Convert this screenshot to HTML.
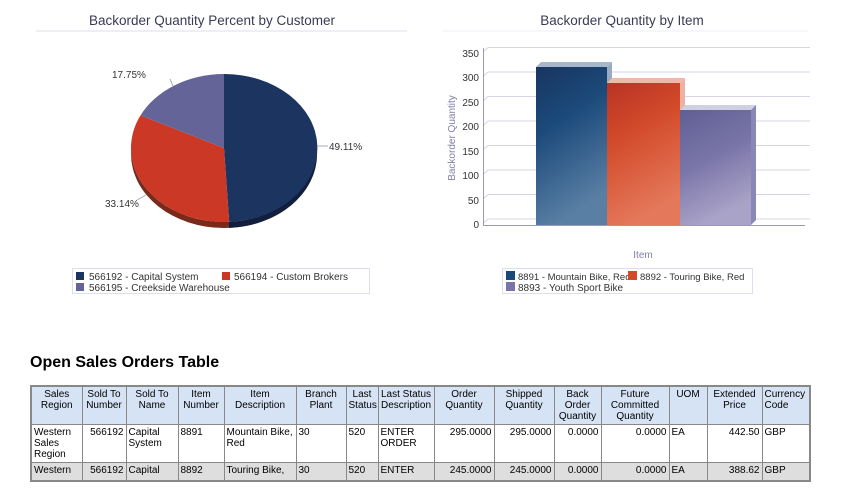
<!DOCTYPE html>
<html><head><style>
body{margin:0;width:845px;height:495px;background:#fff;font-family:"Liberation Sans",sans-serif;position:relative;overflow:hidden}
.abs{position:absolute}
table{border-collapse:collapse;position:absolute;left:30px;top:385px;width:779px;border:2px solid #888;font-size:10px;table-layout:fixed}
td,th{border:1px solid #888;vertical-align:top;padding:2px 2px;line-height:11px;color:#000}
th{background:#d6e3f5;font-weight:normal;text-align:center;height:30px}
td.r{text-align:right}
tr.g td{background:#dedede}
</style></head><body>
<svg class="abs" style="left:0;top:0" width="845" height="300" font-family="Liberation Sans, sans-serif">
<defs>
<linearGradient id="b1" x1="0" y1="0" x2="0.3" y2="1"><stop offset="0" stop-color="#1a3560"/><stop offset="0.4" stop-color="#1b4a7a"/><stop offset="1" stop-color="#5a7fa5"/></linearGradient>
<linearGradient id="b2" x1="0" y1="0" x2="0.3" y2="1"><stop offset="0" stop-color="#b83325"/><stop offset="0.4" stop-color="#d24a2a"/><stop offset="1" stop-color="#e4785a"/></linearGradient>
<linearGradient id="b3" x1="0" y1="0" x2="0.3" y2="1"><stop offset="0" stop-color="#5f5f95"/><stop offset="0.5" stop-color="#7a75a8"/><stop offset="1" stop-color="#a9a3c8"/></linearGradient>
</defs>
<text x="212" y="25" font-size="13.5" fill="#3a3a55" text-anchor="middle">Backorder Quantity Percent by Customer</text>
<line x1="36" y1="31" x2="407" y2="31" stroke="#dde" />
<text x="622" y="25" font-size="13.5" fill="#3a3a55" text-anchor="middle">Backorder Quantity by Item</text>
<line x1="443" y1="31" x2="808" y2="31" stroke="#eef" />
<path d="M131,148 A93,74 0 0 0 317,148 L317,154 A93,74 0 0 1 131,154 Z" fill="#7a2a1a"/>
<path d="M229,222 A93,74 0 0 0 317,148 L317,154 A93,74 0 0 1 229,228 Z" fill="#0f1f3d"/>
<path d="M224,148 L224,74 A93,74 0 0 1 229.2,221.9 Z" fill="#1c3560"/>
<path d="M224,148 L229.2,221.9 A93,74 0 0 1 140.5,115.4 Z" fill="#cb3826"/>
<path d="M224,148 L140.5,115.4 A93,74 0 0 1 224,74 Z" fill="#646499"/>
<g font-size="10" fill="#333">
<text x="112" y="78">17.75%</text>
<line x1="170" y1="79" x2="173" y2="86" stroke="#aab"/>
<line x1="317" y1="146" x2="328" y2="146" stroke="#aab"/>
<text x="329" y="150">49.11%</text>
<text x="105" y="207">33.14%</text>
<line x1="137" y1="200" x2="146" y2="195" stroke="#aab"/>
</g>
<rect x="72.5" y="268.5" width="297" height="25" fill="#fff" stroke="#dde"/>
<rect x="76" y="272" width="8" height="8" fill="#1c3560"/>
<text x="89" y="280" font-size="10" fill="#333">566192 - Capital System</text>
<rect x="222" y="272" width="8" height="8" fill="#cb3826"/>
<text x="234" y="280" font-size="10" fill="#333">566194 - Custom Brokers</text>
<rect x="76" y="283" width="8" height="8" fill="#646499"/>
<text x="89" y="291" font-size="10" fill="#333">566195 - Creekside Warehouse</text>
<g stroke="#d4d4e4" stroke-width="1">
<line x1="488" y1="47.5" x2="810" y2="47.5"/><line x1="483" y1="52" x2="488" y2="47.5"/>
<line x1="488" y1="72" x2="810" y2="72"/><line x1="483" y1="76.5" x2="488" y2="72"/>
<line x1="488" y1="96.5" x2="810" y2="96.5"/><line x1="483" y1="101" x2="488" y2="96.5"/>
<line x1="488" y1="121" x2="810" y2="121"/><line x1="483" y1="125.5" x2="488" y2="121"/>
<line x1="488" y1="145.5" x2="810" y2="145.5"/><line x1="483" y1="150" x2="488" y2="145.5"/>
<line x1="488" y1="170" x2="810" y2="170"/><line x1="483" y1="174.5" x2="488" y2="170"/>
<line x1="488" y1="194.5" x2="810" y2="194.5"/><line x1="483" y1="199" x2="488" y2="194.5"/>
<line x1="488" y1="219" x2="810" y2="219"/><line x1="483" y1="223.5" x2="488" y2="219"/>
</g>
<line x1="483.5" y1="48" x2="483.5" y2="225" stroke="#9a9ab8"/>
<line x1="483" y1="225.5" x2="805" y2="225.5" stroke="#9a9ab8"/>
<g font-size="10" fill="#333" text-anchor="end">
<text x="479" y="57">350</text><text x="479" y="81">300</text><text x="479" y="106">250</text><text x="479" y="130">200</text><text x="479" y="155">150</text><text x="479" y="179">100</text><text x="479" y="204">50</text><text x="479" y="228">0</text>
</g>
<text transform="translate(455,138) rotate(-90)" font-size="10" fill="#8080a8" text-anchor="middle">Backorder Quantity</text>
<text x="643" y="258" font-size="10" fill="#8080a8" text-anchor="middle">Item</text>
<polygon points="536,67 541,62 612,62 607,67" fill="#a8b8cc"/>
<polygon points="607,67 612,62 612,220 607,225" fill="#9aaac0"/>
<rect x="536" y="67" width="71" height="158" fill="url(#b1)"/>
<polygon points="607,83 612,78 685,78 680,83" fill="#f0b8a8"/>
<polygon points="680,83 685,78 685,220 680,225" fill="#eeb0a0"/>
<rect x="607" y="83" width="73" height="142" fill="url(#b2)"/>
<polygon points="680,110 685,105 756,105 751,110" fill="#d0d0e2"/>
<polygon points="751,110 756,105 756,220 751,225" fill="#8888b8"/>
<rect x="680" y="110" width="71" height="115" fill="url(#b3)"/>
<rect x="502.5" y="268.5" width="250" height="25" fill="#fff" stroke="#dde"/>
<rect x="506" y="271" width="9" height="9" fill="#1b4a7a"/>
<text x="518" y="280" font-size="9.5" fill="#333">8891 - Mountain Bike, Red</text>
<rect x="628" y="271" width="9" height="9" fill="#d24a2a"/>
<text x="640" y="280" font-size="9.5" fill="#333">8892 - Touring Bike, Red</text>
<rect x="506" y="282" width="9" height="9" fill="#7a75a8"/>
<text x="518" y="291" font-size="10" fill="#333">8893 - Youth Sport Bike</text>
</svg>
<div class="abs" style="left:30px;top:354px;font-size:16px;font-weight:bold;color:#000">Open Sales Orders Table</div>
<table>
<colgroup><col style="width:51px"><col style="width:44px"><col style="width:52px"><col style="width:46px"><col style="width:72px"><col style="width:50px"><col style="width:32px"><col style="width:56px"><col style="width:60px"><col style="width:60px"><col style="width:47px"><col style="width:68px"><col style="width:38px"><col style="width:55px"><col style="width:48px"></colgroup>
<tr><th>Sales Region</th><th>Sold To Number</th><th>Sold To Name</th><th>Item Number</th><th>Item Description</th><th>Branch Plant</th><th>Last Status</th><th>Last Status Description</th><th>Order Quantity</th><th>Shipped Quantity</th><th>Back Order Quantity</th><th>Future Committed Quantity</th><th>UOM</th><th>Extended Price</th><th style="text-align:left">Currency Code</th></tr>
<tr style="height:37px"><td>Western Sales Region</td><td class="r">566192</td><td>Capital System</td><td>8891</td><td>Mountain Bike, Red</td><td>30</td><td>520</td><td>ENTER ORDER</td><td class="r">295.0000</td><td class="r">295.0000</td><td class="r">0.0000</td><td class="r">0.0000</td><td>EA</td><td class="r">442.50</td><td>GBP</td></tr>
<tr class="g" style="height:18px"><td>Western</td><td class="r">566192</td><td>Capital</td><td>8892</td><td>Touring Bike,</td><td>30</td><td>520</td><td>ENTER</td><td class="r">245.0000</td><td class="r">245.0000</td><td class="r">0.0000</td><td class="r">0.0000</td><td>EA</td><td class="r">388.62</td><td>GBP</td></tr>
</table>
</body></html>
